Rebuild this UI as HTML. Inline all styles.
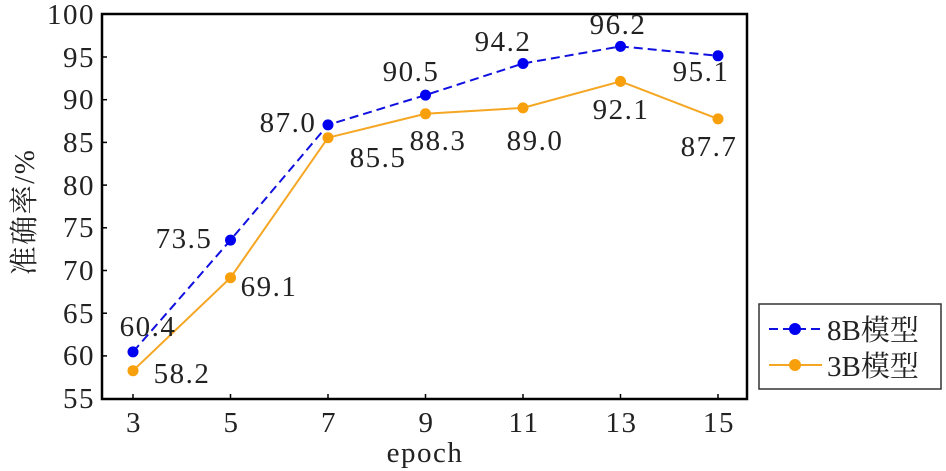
<!DOCTYPE html>
<html><head><meta charset="utf-8"><style>body{margin:0;background:#fff}svg{display:block}text{font-family:"Liberation Serif","Noto Serif CJK SC",serif;fill:#222;letter-spacing:1.5px}</style></head><body>
<svg width="946" height="471" xmlns="http://www.w3.org/2000/svg">
<rect x="102" y="14" width="645" height="385" fill="none" stroke="#000" stroke-width="2.5"/>
<g stroke="#000" stroke-width="1.5">
<line x1="102" y1="57" x2="107" y2="57"/><line x1="102" y1="99.7" x2="107" y2="99.7"/><line x1="102" y1="142.4" x2="107" y2="142.4"/><line x1="102" y1="185.1" x2="107" y2="185.1"/><line x1="102" y1="227.8" x2="107" y2="227.8"/><line x1="102" y1="270.5" x2="107" y2="270.5"/><line x1="102" y1="313.2" x2="107" y2="313.2"/><line x1="102" y1="355.9" x2="107" y2="355.9"/>
<line x1="133" y1="399" x2="133" y2="394"/><line x1="230.5" y1="399" x2="230.5" y2="394"/><line x1="328" y1="399" x2="328" y2="394"/><line x1="425.5" y1="399" x2="425.5" y2="394"/><line x1="523" y1="399" x2="523" y2="394"/><line x1="620.5" y1="399" x2="620.5" y2="394"/><line x1="718" y1="399" x2="718" y2="394"/>
</g>
<g font-size="29" text-anchor="end">
<text x="95" y="24">100</text><text x="95" y="67">95</text><text x="95" y="109">90</text><text x="95" y="152">85</text><text x="95" y="195">80</text><text x="95" y="237">75</text><text x="95" y="280">70</text><text x="95" y="323">65</text><text x="95" y="365">60</text><text x="95" y="408">55</text>
</g>
<g font-size="29" text-anchor="middle">
<text x="134" y="432">3</text><text x="231.5" y="432">5</text><text x="329" y="432">7</text><text x="426.5" y="432">9</text><text x="524" y="432">11</text><text x="621.5" y="432">13</text><text x="719" y="432">15</text>
<text x="425" y="462">epoch</text>
<text transform="translate(34,212) rotate(-90)">准确率/%</text>
</g>
<polyline points="133,370.7 230.5,277.7 328,137.7 425.5,113.8 523,107.9 620.5,81.4 718,118.9" fill="none" stroke="#f5a623" stroke-width="2"/>
<polyline points="133,351.9 230.5,240.1 328,124.9 425.5,95.1 523,63.5 620.5,46.4 718,55.8" fill="none" stroke="#1010e0" stroke-width="2" stroke-dasharray="9,5"/>
<g fill="#f8a00c"><circle cx="133" cy="370.7" r="5.5"/><circle cx="230.5" cy="277.7" r="5.5"/><circle cx="328" cy="137.7" r="5.5"/><circle cx="425.5" cy="113.8" r="5.5"/><circle cx="523" cy="107.9" r="5.5"/><circle cx="620.5" cy="81.4" r="5.5"/><circle cx="718" cy="118.9" r="5.5"/></g>
<g fill="#0000f0"><circle cx="133" cy="351.9" r="5.5"/><circle cx="230.5" cy="240.1" r="5.5"/><circle cx="328" cy="124.9" r="5.5"/><circle cx="425.5" cy="95.1" r="5.5"/><circle cx="523" cy="63.5" r="5.5"/><circle cx="620.5" cy="46.4" r="5.5"/><circle cx="718" cy="55.8" r="5.5"/></g>
<g font-size="29" text-anchor="middle">
<text x="148" y="336">60.4</text><text x="182" y="383">58.2</text><text x="184" y="248">73.5</text><text x="269" y="296">69.1</text><text x="288" y="132">87.0</text><text x="378" y="167">85.5</text><text x="411" y="81">90.5</text><text x="438" y="150">88.3</text><text x="503" y="51">94.2</text><text x="535" y="150">89.0</text><text x="618" y="34">96.2</text><text x="621" y="119">92.1</text><text x="701" y="81">95.1</text><text x="709" y="156">87.7</text>
</g>
<rect x="759" y="304" width="182" height="85" fill="#fff" stroke="#333" stroke-width="1.5"/>
<line x1="769" y1="329" x2="822" y2="329" stroke="#1010e0" stroke-width="2" stroke-dasharray="9,5"/>
<circle cx="795" cy="329" r="6" fill="#0000f0"/>
<line x1="769" y1="365" x2="822" y2="365" stroke="#f5a623" stroke-width="2"/>
<circle cx="795" cy="365" r="6" fill="#f8a00c"/>
<text x="827" y="340" font-size="29" style="letter-spacing:0">8B模型</text>
<text x="827" y="376" font-size="29" style="letter-spacing:0">3B模型</text>
</svg>
</body></html>
